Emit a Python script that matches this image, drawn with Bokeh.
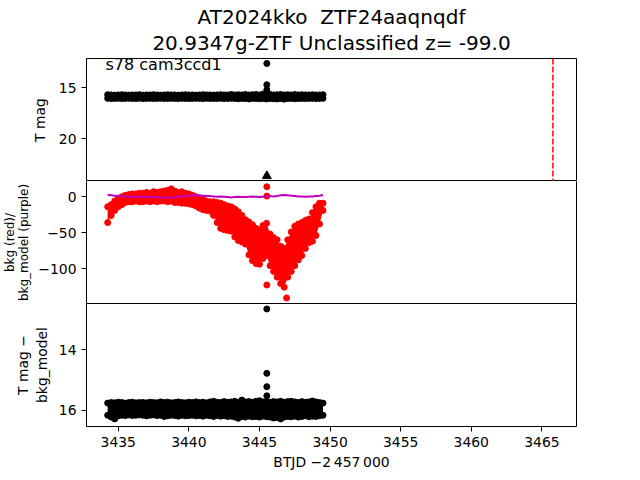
from bokeh.plotting import figure
from bokeh.layouts import column
from bokeh.models import (Range1d, FixedTicker, Span, Label, Title, LinearAxis,
                          CustomJSTickFormatter)
from bokeh.embed import file_html
from bokeh.resources import INLINE

# ---------------- data ----------------
t = [3434.25, 3434.50, 3434.75, 3435.00, 3435.25, 3435.50, 3435.75, 3436.00, 3436.25,
     3436.50, 3436.75, 3437.00, 3437.25, 3437.50, 3437.75, 3438.00, 3438.25,
     3438.50, 3438.75, 3439.00, 3439.25, 3439.50, 3439.75, 3440.00, 3440.25, 3440.50,
     3440.75, 3441.00, 3441.25, 3441.50, 3441.75, 3442.00, 3442.25, 3442.50, 3442.75,
     3443.00, 3443.25, 3443.50, 3443.75, 3444.00, 3444.25, 3444.50, 3444.75, 3445.00,
     3445.25, 3445.50, 3445.75, 3446.00, 3446.25, 3446.50, 3446.75, 3447.00, 3447.25,
     3447.50, 3447.75, 3448.00, 3448.25, 3448.50, 3448.75, 3449.00, 3449.25, 3449.50]

# T mag band (upper / lower edge)
tmag_hi = [15.68, 15.70, 15.72, 15.70, 15.68, 15.70, 15.72, 15.70, 15.70,
           15.68, 15.72, 15.70, 15.70, 15.68, 15.70, 15.72, 15.70,
           15.68, 15.70, 15.70, 15.72, 15.70, 15.68, 15.70, 15.70, 15.72,
           15.70, 15.68, 15.70, 15.70, 15.72, 15.70, 15.68, 15.70, 15.70,
           15.66, 15.70, 15.68, 15.70, 15.66, 15.70, 15.68, 15.66, 15.70,
           15.62, 15.68, 15.66, 15.70, 15.68, 15.66, 15.70, 15.68, 15.70,
           15.66, 15.70, 15.68, 15.70, 15.70, 15.68, 15.70, 15.70, 15.68]
tmag_lo = [16.04, 16.06, 16.05, 16.04, 16.06, 16.05, 16.04, 16.05, 16.06,
           16.04, 16.06, 16.05, 16.04, 16.06, 16.05, 16.04, 16.06,
           16.05, 16.04, 16.05, 16.06, 16.04, 16.05, 16.06, 16.05, 16.04,
           16.05, 16.06, 16.04, 16.05, 16.06, 16.05, 16.04, 16.06, 16.05,
           16.04, 16.06, 16.08, 16.05, 16.06, 16.10, 16.05, 16.06, 16.08,
           16.05, 16.10, 16.06, 16.08, 16.10, 16.06, 16.12, 16.06, 16.05,
           16.08, 16.06, 16.05, 16.06, 16.05, 16.04, 16.06, 16.05, 16.04]

# bkg band (red)
bkg_hi = [-14, -11, -6, -2, 0, 2, 3, 4, 4,
          5, 5, 6, 5, 7, 6, 7, 8,
          9, 11, 8, 6, 7, 5, 4, 2, 0,
          -2, -4, -6, -7, -7, -8, -9, -11, -13,
          -14, -17, -21, -26, -32, -35, -39, -44, -46,
          -40, -37, -52, -57, -60, -69, -72, -60, -49,
          -41, -38, -36, -33, -31, -22, -14, -9, -9]
bkg_lo = [-36, -26, -19, -14, -11, -8, -7, -7, -6,
          -7, -7, -6, -7, -6, -7, -6, -6,
          -7, -6, -8, -8, -9, -9, -10, -11, -13,
          -16, -18, -19, -20, -26, -36, -44, -46, -47,
          -48, -56, -61, -63, -66, -81, -89, -93, -94,
          -86, -82, -96, -104, -112, -121, -126, -112, -104,
          -96, -88, -82, -72, -64, -62, -54, -38, -19]

# bkg_model (purple)
bkg_model = [2.5, 2.0, 1.5, 1.0, 1.0, 0.5, 0.5, 0.0, 0.5,
             0.0, 0.0, 0.0, -0.5, -1.0, -0.5, -1.0, -1.5,
             -1.0, -1.5, -0.5, 0.0, 0.5, 1.0, 1.5, 2.0, 2.5,
             2.0, 1.5, 1.0, 1.0, 0.5, 0.0, 0.5, 0.0, -0.5,
             -1.0, -0.5, 0.0, -0.5, -0.5, 0.0, 0.5, 0.0, -0.5,
             0.0, 0.5, 1.0, 0.5, 1.0, 2.0, 2.5, 2.0, 1.5,
             1.0, 0.5, 0.5, 0.0, 0.5, 0.5, 1.0, 1.5, 2.5]

# T mag - bkg_model band
diff_hi = [15.76, 15.74, 15.75, 15.73, 15.74, 15.76, 15.74, 15.73, 15.75,
           15.74, 15.74, 15.75, 15.73, 15.74, 15.75, 15.72, 15.74,
           15.73, 15.75, 15.74, 15.72, 15.74, 15.75, 15.73, 15.74, 15.72,
           15.74, 15.73, 15.75, 15.72, 15.70, 15.73, 15.74, 15.71, 15.73,
           15.72, 15.70, 15.73, 15.66, 15.72, 15.71, 15.73, 15.70, 15.68,
           15.72, 15.70, 15.73, 15.71, 15.72, 15.70, 15.73, 15.71, 15.70,
           15.72, 15.74, 15.71, 15.73, 15.72, 15.69, 15.72, 15.74, 15.76]
diff_lo = [16.16, 16.22, 16.28, 16.18, 16.16, 16.17, 16.15, 16.17, 16.16,
           16.15, 16.16, 16.18, 16.16, 16.15, 16.17, 16.16, 16.20,
           16.18, 16.16, 16.17, 16.19, 16.16, 16.18, 16.17, 16.16, 16.18,
           16.17, 16.19, 16.16, 16.18, 16.20, 16.17, 16.19, 16.18, 16.20,
           16.19, 16.22, 16.26, 16.20, 16.22, 16.19, 16.21, 16.20, 16.22,
           16.19, 16.21, 16.22, 16.25, 16.23, 16.28, 16.22, 16.20, 16.21,
           16.19, 16.22, 16.20, 16.18, 16.21, 16.19, 16.20, 16.18, 16.16]

# outliers
tmag_out_t = [3445.52, 3445.52, 3445.52]
tmag_out_y = [12.6, 14.7, 15.2]
limit_t = [3445.52]
limit_y = [23.7]
bkg_out_t = [3445.52, 3445.52, 3445.52, 3446.92]
bkg_out_y = [13.9, 0.9, -123.0, -141.0]
diff_out_t = [3445.52, 3445.52, 3445.52, 3445.52]
diff_out_y = [12.66, 14.78, 15.22, 15.52]

ztf_time = 3465.78

title_line1 = "AT2024kko\u00a0 ZTF24aaqnqdf"
title_line2 = "20.9347g-ZTF Unclassified z= -99.0"
sector_text = "s78 cam3ccd1"
x_label = "BTJD \u22122\u2009457\u2009000"
x_ticks = [3435, 3440, 3445, 3450, 3455, 3460, 3465]
y1_label = "T mag"
y2_label = "bkg (red)/\nbkg_model (purple)"
y3_label = "T mag \u2212\nbkg_model"

# ---------------- style ----------------
FONT = "DejaVu Sans"
TICK_FS = "13.9px"
x_range = Range1d(3432.75, 3467.45)

fmt = CustomJSTickFormatter(code="return String(tick).replace('-', '\\u2212');")


def style_axis(a):
    a.major_tick_in = 0
    a.major_tick_out = 5
    a.minor_tick_out = 0
    a.minor_tick_in = 0
    a.major_tick_line_color = "black"
    a.major_label_text_font = FONT
    a.major_label_text_font_size = TICK_FS
    a.major_label_text_color = "black"
    a.major_label_standoff = 5
    a.axis_label_text_font = FONT
    a.axis_label_text_font_size = TICK_FS
    a.axis_label_text_font_style = "normal"
    a.axis_label_text_color = "black"


def make_fig(height, top, bottom, y0, y1, yticks, ylab, ystand, lh, show_x=False, outline=True):
    p = figure(width=640, height=height, x_range=x_range, y_range=Range1d(y0, y1),
               output_backend="svg", toolbar_location=None,
               x_axis_location="below" if show_x else None,
               min_border_left=81, min_border_right=64,
               min_border_top=top, min_border_bottom=bottom)
    if outline:
        p.outline_line_color = "black"
        p.outline_line_alpha = 1.0
        p.outline_line_width = 1
    else:
        p.outline_line_color = None
    p.grid.visible = False
    p.background_fill_color = "white"
    p.border_fill_color = "white"
    ax = p.yaxis[0]
    style_axis(ax)
    ax.ticker = FixedTicker(ticks=yticks)
    ax.formatter = fmt
    ax.axis_line_color = None if outline else "black"
    ax.axis_label = ylab
    ax.axis_label_standoff = ystand
    ax.axis_label_text_line_height = lh
    if show_x:
        xa = p.xaxis[0]
        style_axis(xa)
        xa.ticker = FixedTicker(ticks=x_ticks)
        xa.axis_line_color = None
        xa.axis_label = x_label
        xa.axis_label_standoff = 4
    return p


# ---- top panel: T mag ----
p1 = make_fig(181, 58, 0, 24.24, 12.11, [15, 20], y1_label, 8, 1.2)
p1.varea(x=t, y1=tmag_hi, y2=tmag_lo, fill_color="black")
p1.scatter(t, tmag_hi, size=6, color="black")
p1.scatter(t, tmag_lo, size=6, color="black")
p1.scatter(tmag_out_t, tmag_out_y, size=6, color="black")
p1.scatter(limit_t, limit_y, marker="triangle", size=9, color="black")
p1.add_layout(Span(location=ztf_time, dimension="height", line_color="red",
                   line_dash="6 2", line_width=1.5))
# second line first: it sits nearest the frame
p1.add_layout(Title(text=title_line2, align="center", text_font=FONT,
                    text_font_size="20px", text_font_style="normal",
                    text_color="black", standoff=8), "above")
p1.add_layout(Title(text=title_line1, align="center", text_font=FONT,
                    text_font_size="20px", text_font_style="normal",
                    text_color="black", standoff=-8), "above")
p1.add_layout(Label(x=19, y=117, x_units="screen", y_units="screen", text=sector_text,
                    text_align="left", text_baseline="alphabetic", text_font=FONT,
                    text_font_size="16px", text_color="black"))

# ---- middle panel: bkg ----
p2 = make_fig(122, 0, 0, -148.75, 21.25, [0, -50, -100], y2_label, 4, 1.0, outline=False)
p2.yaxis[0].axis_label_text_font_size = "12px"
p2.add_layout(LinearAxis(ticker=FixedTicker(ticks=[]), axis_line_color="black",
                         major_tick_out=0, major_tick_in=0, minor_tick_out=0,
                         minor_tick_in=0, major_label_text_font_size="0px"), "right")
p2.varea(x=t, y1=bkg_hi, y2=bkg_lo, fill_color="red")
p2.scatter(t, bkg_hi, size=6, color="red")
p2.scatter(t, bkg_lo, size=6, color="red")
p2.scatter(bkg_out_t, bkg_out_y, size=6, color="red")
p2.line(t, bkg_model, line_color="#bf00bf", line_width=2)

# ---- bottom panel: T mag - bkg_model ----
p3 = make_fig(177, 0, 54, 16.53, 12.48, [14, 16], y3_label, 6, 1.2, show_x=True)
p3.varea(x=t, y1=diff_hi, y2=diff_lo, fill_color="black")
p3.scatter(t, diff_hi, size=6, color="black")
p3.scatter(t, diff_lo, size=6, color="black")
p3.scatter(diff_out_t, diff_out_y, size=6, color="black")

layout = column(p1, p2, p3, spacing=0)

with open("out.html", "w") as f:
    f.write(file_html(layout, INLINE))
